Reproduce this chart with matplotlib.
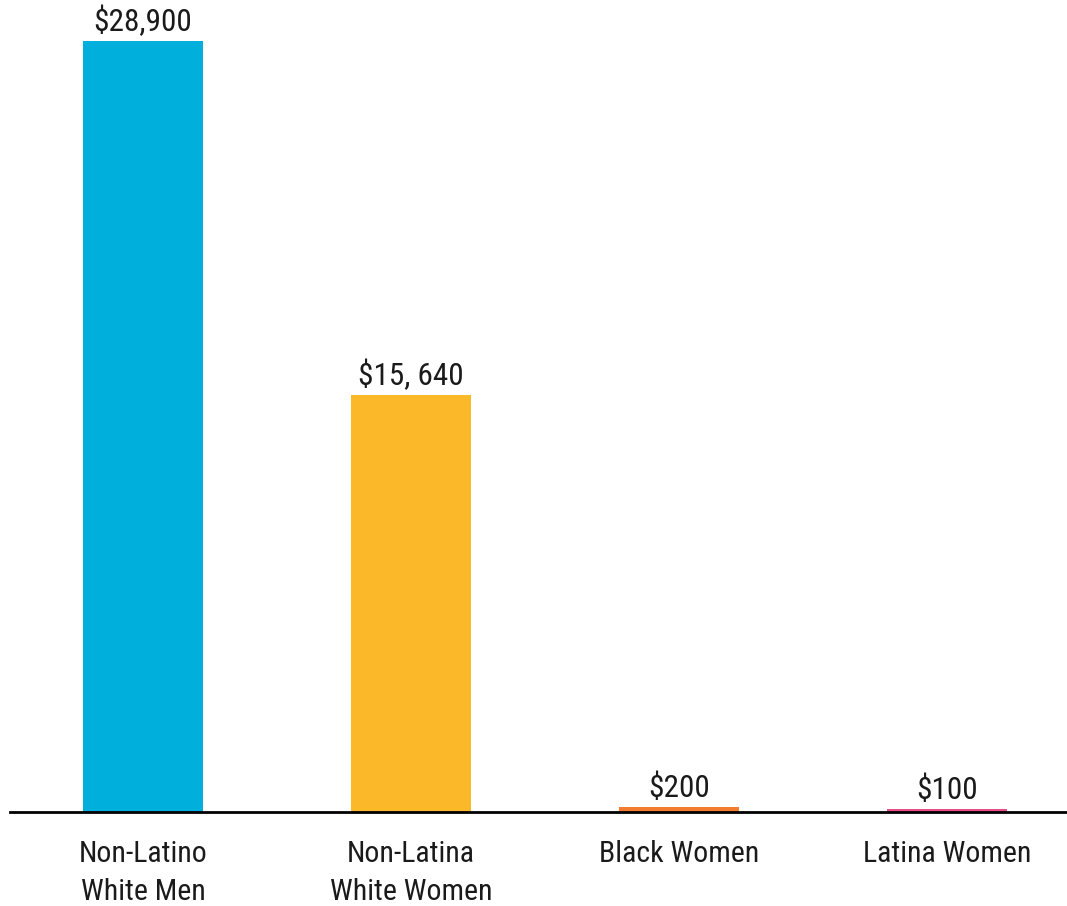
import matplotlib
matplotlib.use('Agg')
import matplotlib.pyplot as plt
import numpy as np

# data
categories = ['Non-Latino\nWhite Men', 'Non-Latina\nWhite Women', 'Black Women', 'Latina Women']
values = [28900, 15640, 200, 100]
value_labels = ['$28,900', '$15, 640', '$200', '$100']
colors = ['#00AFDB', '#FBB829', '#F37C30', '#EA4C89']

plt.rcParams['font.family'] = ['Liberation Sans Narrow', 'DejaVu Sans Condensed',
                               'Roboto Condensed', 'DejaVu Sans']
plt.rcParams['font.stretch'] = 'condensed'

fig = plt.figure(figsize=(10.67, 9.06), dpi=100)
ax = fig.add_axes([10 / 1067, 94 / 906, 1057 / 1067, 800 / 906])

x = np.arange(len(categories))
ax.bar(x, values, width=0.45, color=colors, zorder=2)

for xi, v, lab in zip(x, values, value_labels):
    ax.annotate(lab, (xi, v), xytext=(0, 3), textcoords='offset points',
                ha='center', va='bottom', fontsize=22.5, color='#1a1a1a')

ax.set_xlim(-0.496, 3.448)
ax.set_ylim(0, 30000)
ax.set_xticks(x)
ax.set_xticklabels(categories, fontsize=21.5, color='#1a1a1a', linespacing=1.45)
ax.tick_params(axis='x', length=0, pad=20)
ax.set_yticks([])

for s in ['top', 'right', 'left']:
    ax.spines[s].set_visible(False)
ax.spines['bottom'].set_linewidth(2)
ax.spines['bottom'].set_color('black')
ax.spines['bottom'].set_zorder(3)

fig.savefig('out.png', dpi=100)
